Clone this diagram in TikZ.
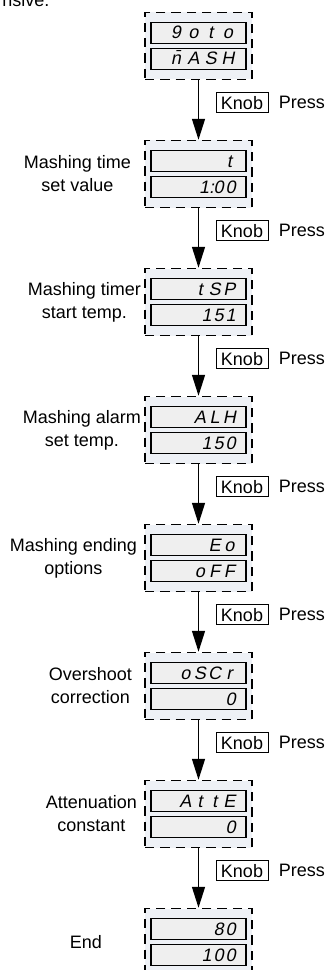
\documentclass[tikz,border=0pt]{standalone}
\usepackage{fontspec}
\setmainfont{Liberation Sans}
\newfontfamily\lcdfont[FakeSlant=0.2]{Liberation Sans}
\usepackage{xcolor}
\definecolor{panelblue}{RGB}{238,241,246}
\definecolor{lcdgray}{RGB}{239,239,239}
\usetikzlibrary{arrows.meta,positioning}
\tikzset{
  >={Triangle[length=15.75pt,width=9.75pt]},
  panel/.style={rectangle,draw,line width=1.1pt,dash pattern=on 7pt off 4.5pt,fill=panelblue,minimum width=80.25pt,minimum height=50.25pt,inner sep=0pt},
  lcd/.style={rectangle,draw,line width=1.2pt,fill=lcdgray,minimum width=71.25pt,minimum height=16pt,inner xsep=7pt,inner ysep=0pt,text width=57.25pt,text height=10pt,text depth=1pt,align=right,font=\lcdfont\fontsize{13.5pt}{16pt}\selectfont},
  knob/.style={rectangle,draw,line width=0.75pt,minimum width=39pt,minimum height=15pt,inner sep=0pt},
  hint/.style={inner sep=0pt},
  tag/.style={align=center,inner sep=0pt,anchor=east},
  flow/.style={->,line width=1.1pt}
}
\newcommand{\lcd}[2][11pt]{\foreach \ch in {#2}{\makebox[#1][c]{\ch}}}

\begin{document}
\begin{tikzpicture}[x=0.75pt,y=-0.75pt,font=\fontsize{13.5pt}{17.25pt}\selectfont]
  \useasboundingbox (0,0) rectangle (325,970);

  % Tail of the text above
  \node[hint,anchor=base west] (tail) at (2,7) {nsive.};

  % Display panels
  \node[panel] (p0) at (198.5,46) {};
  \node[panel,below=44.65pt of p0] (p1) {};
  \node[panel,below=44.65pt of p1] (p2) {};
  \node[panel,below=44.65pt of p2] (p3) {};
  \node[panel,below=44.65pt of p3] (p4) {};
  \node[panel,below=44.65pt of p4] (p5) {};
  \node[panel,below=44.65pt of p5] (p6) {};
  \node[panel,below=44.65pt of p6] (p7) {};

  % Upper and lower readouts
  \node[lcd] (u0) at ([yshift=9.75pt]p0.center) {\lcd[13pt]{9,o,t,o}};
  \node[lcd] (d0) at ([yshift=-9.75pt]p0.center) {\lcd[13pt]{\smash{\=n},A,S,H}};
  \node[lcd] (u1) at ([yshift=9.75pt]p1.center) {\lcd{t}};
  \node[lcd] (d1) at ([yshift=-9.75pt]p1.center) {\lcd[9pt]{1:,0,0}};
  \node[lcd] (u2) at ([yshift=9.75pt]p2.center) {\lcd{t,S,P}};
  \node[lcd] (d2) at ([yshift=-9.75pt]p2.center) {\lcd[9pt]{1,5,1}};
  \node[lcd] (u3) at ([yshift=9.75pt]p3.center) {\lcd{A,L,H}};
  \node[lcd] (d3) at ([yshift=-9.75pt]p3.center) {\lcd[9pt]{1,5,0}};
  \node[lcd] (u4) at ([yshift=9.75pt]p4.center) {\lcd{E,o}};
  \node[lcd] (d4) at ([yshift=-9.75pt]p4.center) {\lcd{o,F,F}};
  \node[lcd] (u5) at ([yshift=9.75pt]p5.center) {\lcd{o,S,C,r}};
  \node[lcd] (d5) at ([yshift=-9.75pt]p5.center) {\lcd[9pt]{0}};
  \node[lcd] (u6) at ([yshift=9.75pt]p6.center) {\lcd{A,t,t,E}};
  \node[lcd] (d6) at ([yshift=-9.75pt]p6.center) {\lcd[9pt]{0}};
  \node[lcd] (u7) at ([yshift=9.75pt]p7.center) {\lcd[9pt]{8,0}};
  \node[lcd] (d7) at ([yshift=-9.75pt]p7.center) {\lcd[9pt]{1,0,0}};

  % Parameter names
  \node[tag] (l1) at ([xshift=-9.75pt]p1.west) {Mashing time\\set value};
  \node[tag] (l2) at ([xshift=-2.25pt]p2.west) {Mashing timer\\start temp.};
  \node[tag] (l3) at ([xshift=-2.25pt]p3.west) {Mashing alarm\\set temp.};
  \node[tag] (l4) at ([xshift=-5.25pt]p4.west) {Mashing ending\\options};
  \node[tag] (l5) at ([xshift=-9pt]p5.west) {Overshoot\\correction};
  \node[tag] (l6) at ([xshift=-5.25pt]p6.west) {Attenuation\\constant};
  \node[tag] (l7) at ([xshift=-31.5pt]p7.west) {End};

  % Steps
  \draw[flow] (p0) -- (p1);
  \draw[flow] (p1) -- (p2);
  \draw[flow] (p2) -- (p3);
  \draw[flow] (p3) -- (p4);
  \draw[flow] (p4) -- (p5);
  \draw[flow] (p5) -- (p6);
  \draw[flow] (p6) -- (p7);

  % Knob hints
  \node[knob,anchor=west] (k0) at ([xshift=12.75pt,yshift=-16.9pt]p0.south) {Knob};
  \node[hint,right=7.5pt of k0] (s0) {Press};
  \node[knob,anchor=west] (k1) at ([xshift=12.75pt,yshift=-16.9pt]p1.south) {Knob};
  \node[hint,right=7.5pt of k1] (s1) {Press};
  \node[knob,anchor=west] (k2) at ([xshift=12.75pt,yshift=-16.9pt]p2.south) {Knob};
  \node[hint,right=7.5pt of k2] (s2) {Press};
  \node[knob,anchor=west] (k3) at ([xshift=12.75pt,yshift=-16.9pt]p3.south) {Knob};
  \node[hint,right=7.5pt of k3] (s3) {Press};
  \node[knob,anchor=west] (k4) at ([xshift=12.75pt,yshift=-16.9pt]p4.south) {Knob};
  \node[hint,right=7.5pt of k4] (s4) {Press};
  \node[knob,anchor=west] (k5) at ([xshift=12.75pt,yshift=-16.9pt]p5.south) {Knob};
  \node[hint,right=7.5pt of k5] (s5) {Press};
  \node[knob,anchor=west] (k6) at ([xshift=12.75pt,yshift=-16.9pt]p6.south) {Knob};
  \node[hint,right=7.5pt of k6] (s6) {Press};
\end{tikzpicture}
\end{document}
